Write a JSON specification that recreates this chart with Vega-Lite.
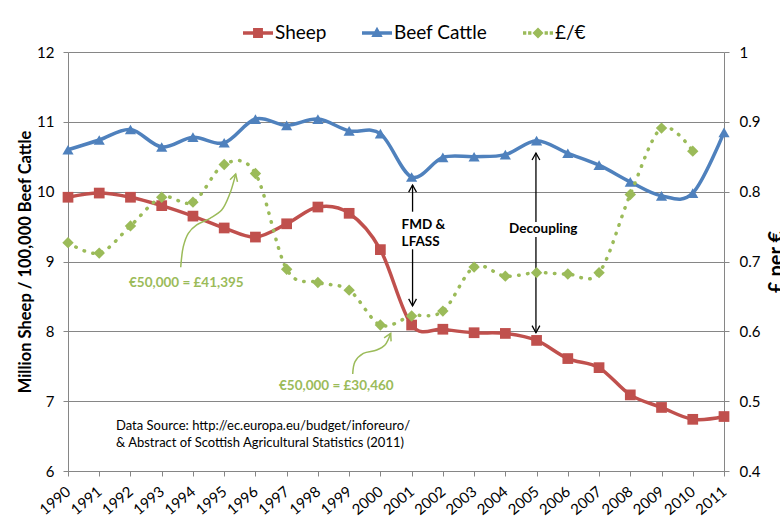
{
  "$schema": "https://vega.github.io/schema/vega-lite/v6.json",
  "width": 656,
  "height": 419,
  "autosize": {"type": "none"},
  "padding": {"left": 68, "top": 52, "right": 56, "bottom": 47},
  "background": "white",
  "config": {
    "view": {"stroke": null},
    "font": "Lato",
    "axis": {"labelFont": "Lato", "titleFont": "Lato"},
    "legend": {"labelFont": "Lato"},
    "text": {"font": "Lato"}
  },
  "datasets": {
    "livestock": [
      {"year": 1990, "series": "Sheep", "value": 9.92},
      {"year": 1991, "series": "Sheep", "value": 9.98},
      {"year": 1992, "series": "Sheep", "value": 9.92},
      {"year": 1993, "series": "Sheep", "value": 9.80},
      {"year": 1994, "series": "Sheep", "value": 9.65},
      {"year": 1995, "series": "Sheep", "value": 9.48},
      {"year": 1996, "series": "Sheep", "value": 9.35},
      {"year": 1997, "series": "Sheep", "value": 9.54},
      {"year": 1998, "series": "Sheep", "value": 9.78},
      {"year": 1999, "series": "Sheep", "value": 9.69},
      {"year": 2000, "series": "Sheep", "value": 9.17},
      {"year": 2001, "series": "Sheep", "value": 8.09},
      {"year": 2002, "series": "Sheep", "value": 8.03},
      {"year": 2003, "series": "Sheep", "value": 7.98},
      {"year": 2004, "series": "Sheep", "value": 7.97},
      {"year": 2005, "series": "Sheep", "value": 7.87},
      {"year": 2006, "series": "Sheep", "value": 7.61},
      {"year": 2007, "series": "Sheep", "value": 7.48},
      {"year": 2008, "series": "Sheep", "value": 7.09},
      {"year": 2009, "series": "Sheep", "value": 6.91},
      {"year": 2010, "series": "Sheep", "value": 6.74},
      {"year": 2011, "series": "Sheep", "value": 6.78},
      {"year": 1990, "series": "Beef Cattle", "value": 10.60},
      {"year": 1991, "series": "Beef Cattle", "value": 10.74},
      {"year": 1992, "series": "Beef Cattle", "value": 10.89},
      {"year": 1993, "series": "Beef Cattle", "value": 10.64},
      {"year": 1994, "series": "Beef Cattle", "value": 10.78},
      {"year": 1995, "series": "Beef Cattle", "value": 10.70},
      {"year": 1996, "series": "Beef Cattle", "value": 11.04},
      {"year": 1997, "series": "Beef Cattle", "value": 10.95},
      {"year": 1998, "series": "Beef Cattle", "value": 11.04},
      {"year": 1999, "series": "Beef Cattle", "value": 10.87},
      {"year": 2000, "series": "Beef Cattle", "value": 10.83},
      {"year": 2001, "series": "Beef Cattle", "value": 10.21},
      {"year": 2002, "series": "Beef Cattle", "value": 10.49},
      {"year": 2003, "series": "Beef Cattle", "value": 10.50},
      {"year": 2004, "series": "Beef Cattle", "value": 10.53},
      {"year": 2005, "series": "Beef Cattle", "value": 10.73},
      {"year": 2006, "series": "Beef Cattle", "value": 10.55},
      {"year": 2007, "series": "Beef Cattle", "value": 10.38},
      {"year": 2008, "series": "Beef Cattle", "value": 10.14},
      {"year": 2009, "series": "Beef Cattle", "value": 9.94},
      {"year": 2010, "series": "Beef Cattle", "value": 9.98},
      {"year": 2011, "series": "Beef Cattle", "value": 10.85}
    ],
    "rate": [
      {"year": 1990, "series": "£/€", "value": 0.727},
      {"year": 1991, "series": "£/€", "value": 0.712},
      {"year": 1992, "series": "£/€", "value": 0.751},
      {"year": 1993, "series": "£/€", "value": 0.792},
      {"year": 1994, "series": "£/€", "value": 0.785},
      {"year": 1995, "series": "£/€", "value": 0.839},
      {"year": 1996, "series": "£/€", "value": 0.826},
      {"year": 1997, "series": "£/€", "value": 0.689},
      {"year": 1998, "series": "£/€", "value": 0.670},
      {"year": 1999, "series": "£/€", "value": 0.659},
      {"year": 2000, "series": "£/€", "value": 0.609},
      {"year": 2001, "series": "£/€", "value": 0.622},
      {"year": 2002, "series": "£/€", "value": 0.629},
      {"year": 2003, "series": "£/€", "value": 0.692},
      {"year": 2004, "series": "£/€", "value": 0.679},
      {"year": 2005, "series": "£/€", "value": 0.684},
      {"year": 2006, "series": "£/€", "value": 0.682},
      {"year": 2007, "series": "£/€", "value": 0.684},
      {"year": 2008, "series": "£/€", "value": 0.796},
      {"year": 2009, "series": "£/€", "value": 0.891},
      {"year": 2010, "series": "£/€", "value": 0.858}
    ]
  },
  "encoding": {
    "x": {
      "field": "year",
      "type": "quantitative",
      "scale": {"domain": [1990, 2011], "nice": false, "zero": false},
      "axis": {
        "values": [1990, 1991, 1992, 1993, 1994, 1995, 1996, 1997, 1998, 1999, 2000, 2001, 2002, 2003, 2004, 2005, 2006, 2007, 2008, 2009, 2010, 2011],
        "format": "d",
        "labelAngle": -40,
        "labelAlign": "right",
        "labelBaseline": "middle",
        "labelFontSize": 15,
        "labelColor": "#000000",
        "labelPadding": 13,
        "labelOverlap": false,
        "labelFlush": false,
        "labelBound": false,
        "tickSize": 5,
        "tickColor": "#868686",
        "domainColor": "#868686",
        "grid": false,
        "title": null
      }
    }
  },
  "layer": [
    {
      "encoding": {
        "y": {
          "field": "value",
          "type": "quantitative",
          "scale": {"domain": [6, 12], "nice": false, "zero": false},
          "axis": {
            "orient": "left",
            "values": [6, 7, 8, 9, 10, 11, 12],
            "labelFontSize": 15,
            "labelColor": "#000000",
            "labelPadding": 9,
            "tickSize": 5,
            "tickColor": "#868686",
            "domainColor": "#868686",
            "grid": true,
            "gridColor": "#868686",
            "title": "Million Sheep / 100,000 Beef Cattle",
            "titleFontSize": 16.5,
            "titleFontWeight": "bold",
            "titleColor": "#000000",
            "titlePadding": 3
          }
        }
      },
      "layer": [
        {
          "data": {"name": "livestock"},
          "transform": [{"filter": "datum.series === 'Sheep'"}],
          "mark": {"type": "line", "interpolate": "cardinal", "strokeWidth": 3.5, "color": "#C0504D"}
        },
        {
          "data": {"name": "livestock"},
          "transform": [{"filter": "datum.series === 'Beef Cattle'"}],
          "mark": {"type": "line", "interpolate": "cardinal", "strokeWidth": 3.5, "color": "#4F81BD"}
        },
        {
          "data": {"name": "livestock"},
          "transform": [{"filter": "datum.series === 'Sheep'"}],
          "mark": {"type": "point", "shape": "square", "filled": true, "opacity": 1, "size": 115, "color": "#C0504D"}
        },
        {
          "data": {"name": "livestock"},
          "transform": [{"filter": "datum.series === 'Beef Cattle'"}],
          "mark": {"type": "point", "shape": "triangle-up", "filled": true, "opacity": 1, "size": 125, "color": "#4F81BD"}
        },
        {
          "data": {"name": "livestock"},
          "transform": [{"filter": "datum.year > 3000"}],
          "mark": {"type": "point", "filled": true, "opacity": 1},
          "encoding": {
            "color": {
              "field": "series",
              "type": "nominal",
              "scale": {"domain": ["Sheep", "Beef Cattle", "£/€"], "range": ["#C0504D", "#4F81BD", "#9BBB59"]},
              "legend": {
                "orient": "none",
                "legendX": 175,
                "legendY": -34,
                "direction": "horizontal",
                "columns": 3,
                "title": null,
                "padding": 0,
                "labelFontSize": 19,
                "labelColor": "#000000",
                "symbolSize": 900,
                "symbolStrokeWidth": 0,
                "columnPadding": 35,
                "labelOffset": 2
              }
            },
            "shape": {
              "field": "series",
              "type": "nominal",
              "scale": {
                "domain": ["Sheep", "Beef Cattle", "£/€"],
                "range": [
                  "M-1,-0.12H1V0.12H-1Z M-0.33,-0.33H0.33V0.33H-0.33Z",
                  "M-1,-0.12H1V0.12H-1Z M0,-0.42L0.38,0.26H-0.38Z",
                  "M-1,-0.11H-0.78V0.11H-1Z M-0.66,-0.11H-0.44V0.11H-0.66Z M0.44,-0.11H0.66V0.11H0.44Z M0.78,-0.11H1V0.11H0.78Z M0,-0.37L0.37,0L0,0.37L-0.37,0Z"
                ]
              },
              "legend": {
                "orient": "none",
                "legendX": 175,
                "legendY": -34,
                "direction": "horizontal",
                "columns": 3,
                "title": null,
                "padding": 0,
                "labelFontSize": 19,
                "labelColor": "#000000",
                "symbolSize": 900,
                "symbolStrokeWidth": 0,
                "columnPadding": 35,
                "labelOffset": 2
              }
            }
          }
        },
        {
          "data": {"values": [
            {"arrow": "fmd-up", "year": 2001.03, "value": 9.713},
            {"arrow": "fmd-up", "year": 2001.03, "value": 10.095},
            {"arrow": "fmd-down", "year": 2001.03, "value": 9.175},
            {"arrow": "fmd-down", "year": 2001.03, "value": 8.363},
            {"arrow": "dec-up", "year": 2004.98, "value": 9.566},
            {"arrow": "dec-up", "year": 2004.98, "value": 10.554},
            {"arrow": "dec-down", "year": 2004.98, "value": 9.351},
            {"arrow": "dec-down", "year": 2004.98, "value": 7.98}
          ]},
          "mark": {"type": "line", "color": "#000000", "strokeWidth": 1.3},
          "encoding": {"detail": {"field": "arrow"}}
        },
        {
          "data": {"values": [
            {"year": 2001.03, "value": 10.095},
            {"year": 2004.98, "value": 10.554}
          ]},
          "mark": {"type": "point", "shape": "M-0.55,1L0,0L0.55,1", "filled": false, "color": "#000000", "strokeWidth": 1.3, "size": 200, "opacity": 1}
        },
        {
          "data": {"values": [
            {"year": 2001.03, "value": 8.363},
            {"year": 2004.98, "value": 7.98}
          ]},
          "mark": {"type": "point", "shape": "M-0.55,1L0,0L0.55,1", "angle": 180, "filled": false, "color": "#000000", "strokeWidth": 1.3, "size": 200, "opacity": 1}
        },
        {
          "data": {"values": [
            {"arrow": "a", "year": 1993.608, "value": 8.917},
            {"arrow": "a", "year": 1993.691, "value": 9.212},
            {"arrow": "a", "year": 1993.851, "value": 9.404},
            {"arrow": "a", "year": 1994.120, "value": 9.523},
            {"arrow": "a", "year": 1994.546, "value": 9.619},
            {"arrow": "a", "year": 1994.920, "value": 9.737},
            {"arrow": "a", "year": 1995.186, "value": 9.977},
            {"arrow": "a", "year": 1995.346, "value": 10.214},
            {"arrow": "a", "year": 1995.368, "value": 10.253},
            {"arrow": "b", "year": 1999.114, "value": 7.389},
            {"arrow": "b", "year": 1999.188, "value": 7.565},
            {"arrow": "b", "year": 1999.454, "value": 7.685},
            {"arrow": "b", "year": 1999.882, "value": 7.732},
            {"arrow": "b", "year": 2000.148, "value": 7.804},
            {"arrow": "b", "year": 2000.330, "value": 7.972}
          ]},
          "mark": {"type": "line", "color": "#9BBB59", "strokeWidth": 1.5, "interpolate": "catmull-rom"},
          "encoding": {"detail": {"field": "arrow"}}
        },
        {
          "data": {"values": [{"year": 1995.368, "value": 10.253}]},
          "mark": {"type": "point", "shape": "M-0.55,1L0,0L0.55,1", "angle": 16, "filled": false, "color": "#9BBB59", "strokeWidth": 1.5, "size": 200, "opacity": 1}
        },
        {
          "data": {"values": [{"year": 2000.330, "value": 7.972}]},
          "mark": {"type": "point", "shape": "M-0.55,1L0,0L0.55,1", "angle": 26, "filled": false, "color": "#9BBB59", "strokeWidth": 1.5, "size": 200, "opacity": 1}
        },
        {
          "data": {"values": [
            {"year": 2000.68, "value": 9.523, "label": "FMD &"},
            {"year": 2000.68, "value": 9.283, "label": "LFASS"},
            {"year": 2004.12, "value": 9.465, "label": "Decoupling"}
          ]},
          "mark": {"type": "text", "align": "left", "baseline": "middle", "fontSize": 13.5, "fontWeight": "bold", "color": "#000000"},
          "encoding": {"text": {"field": "label"}}
        },
        {
          "data": {"values": [
            {"year": 1991.953, "value": 8.692, "label": "€50,000 = £41,395"},
            {"year": 1996.755, "value": 7.217, "label": "€50,000 = £30,460"}
          ]},
          "mark": {"type": "text", "align": "left", "baseline": "middle", "fontSize": 13.5, "fontWeight": "bold", "color": "#9BBB59"},
          "encoding": {"text": {"field": "label"}}
        },
        {
          "data": {"values": [
            {"year": 1991.537, "value": 6.644, "label": "Data Source: http://ec.europa.eu/budget/inforeuro/"},
            {"year": 1991.537, "value": 6.401, "label": "& Abstract of Scottish Agricultural Statistics (2011)"}
          ]},
          "mark": {"type": "text", "align": "left", "baseline": "middle", "fontSize": 13, "color": "#000000"},
          "encoding": {"text": {"field": "label"}}
        }
      ]
    },
    {
      "data": {"name": "rate"},
      "encoding": {
        "y": {
          "field": "value",
          "type": "quantitative",
          "scale": {"domain": [0.4, 1], "nice": false, "zero": false},
          "axis": {
            "orient": "right",
            "values": [0.4, 0.5, 0.6, 0.7, 0.8, 0.9, 1],
            "format": ".1~f",
            "labelFontSize": 15,
            "labelColor": "#000000",
            "labelPadding": 10,
            "tickSize": 5,
            "tickColor": "#868686",
            "domainColor": "#868686",
            "grid": false,
            "title": "£ per €",
            "titleAngle": -90,
            "titleBaseline": "top",
            "titleFontSize": 20,
            "titleFontWeight": "bold",
            "titleColor": "#000000",
            "titlePadding": 7
          }
        }
      },
      "layer": [
        {
          "mark": {"type": "line", "interpolate": "cardinal", "strokeWidth": 3.5, "strokeDash": [0.5, 8.5], "strokeCap": "round", "color": "#9BBB59"}
        },
        {
          "mark": {"type": "point", "shape": "diamond", "filled": true, "opacity": 1, "size": 130, "color": "#9BBB59"}
        }
      ]
    }
  ],
  "resolve": {"scale": {"y": "independent"}}
}
